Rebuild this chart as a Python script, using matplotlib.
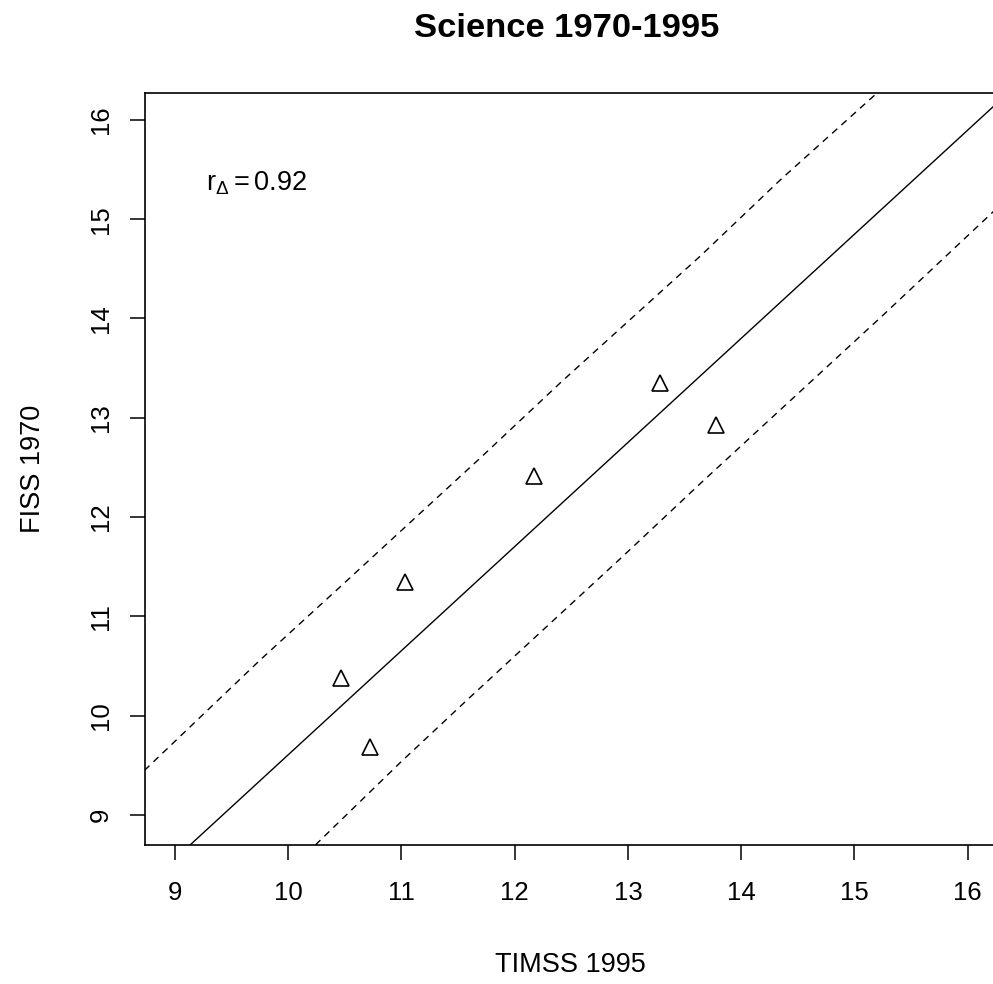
import matplotlib
matplotlib.use("Agg")
import matplotlib.pyplot as plt
import numpy as np

plt.rcParams['font.family'] = ['Liberation Sans', 'DejaVu Sans']
plt.rcParams['mathtext.fontset'] = 'custom'
plt.rcParams['mathtext.rm'] = 'Liberation Sans'
plt.rcParams['mathtext.it'] = 'Liberation Sans'

# country scores (TIMSS 1995 vs FISS 1970)
timss = [10.47, 10.72, 11.03, 12.17, 13.28, 13.78]
fiss = [10.38, 9.69, 11.35, 12.41, 13.35, 12.93]

# fitted line
fit_slope = 1.048
fit_intercept = -0.872

# prediction band
upper_x = [8.73, 9.75, 10.46, 11.70, 12.41, 13.65, 14.35, 15.20]
upper_y = [9.45, 10.56, 11.30, 12.60, 13.36, 14.64, 15.40, 16.27]
lower_x = [10.24, 10.99, 11.58, 12.94, 13.65, 15.24, 16.24]
lower_y = [8.70, 9.53, 10.16, 11.59, 12.35, 14.02, 15.09]

xticks = [9, 10, 11, 12, 13, 14, 15, 16]
yticks = [9, 10, 11, 12, 13, 14, 15, 16]
xlim = (8.735, 16.25)
ylim = (8.70, 16.27)

fig = plt.figure(figsize=(9.93, 9.84), dpi=100)
ax = fig.add_axes([0.146, 0.1413, 0.857, 0.7642])

xs = np.array(xlim)
ax.plot(xs, fit_intercept + fit_slope * xs, color='black', lw=1.0)
ax.plot(upper_x, upper_y, color='black', lw=1.0, dashes=(5, 4))
ax.plot(lower_x, lower_y, color='black', lw=1.0, dashes=(5, 4))
ax.plot(timss, fiss, linestyle='none', marker='^', ms=12, mfc='none',
        mec='black', mew=1.2)

ax.text(9.27, 15.36, r'$\mathregular{r_{\Delta} = 0.92}$', fontsize=19.5,
        ha='left', va='center')

ax.set_xlim(*xlim)
ax.set_ylim(*ylim)
ax.set_xticks(xticks)
ax.set_yticks(yticks)
ax.tick_params(direction='out', length=11, width=1.1, labelsize=18.5, pad=15)
ax.tick_params(axis='y', pad=12)
for lab in ax.get_yticklabels():
    lab.set_rotation(90)
    lab.set_va('center')
for sp in ax.spines.values():
    sp.set_linewidth(1.2)

ax.set_xlabel('TIMSS 1995', fontsize=19.5, labelpad=34)
ax.set_ylabel('FISS 1970', fontsize=19.5, labelpad=31)
fig.text(0.5705, 0.9715, 'Science 1970-1995', fontsize=24.8, fontweight='bold',
         ha='center', va='center')

fig.savefig('out.png', dpi=100)
